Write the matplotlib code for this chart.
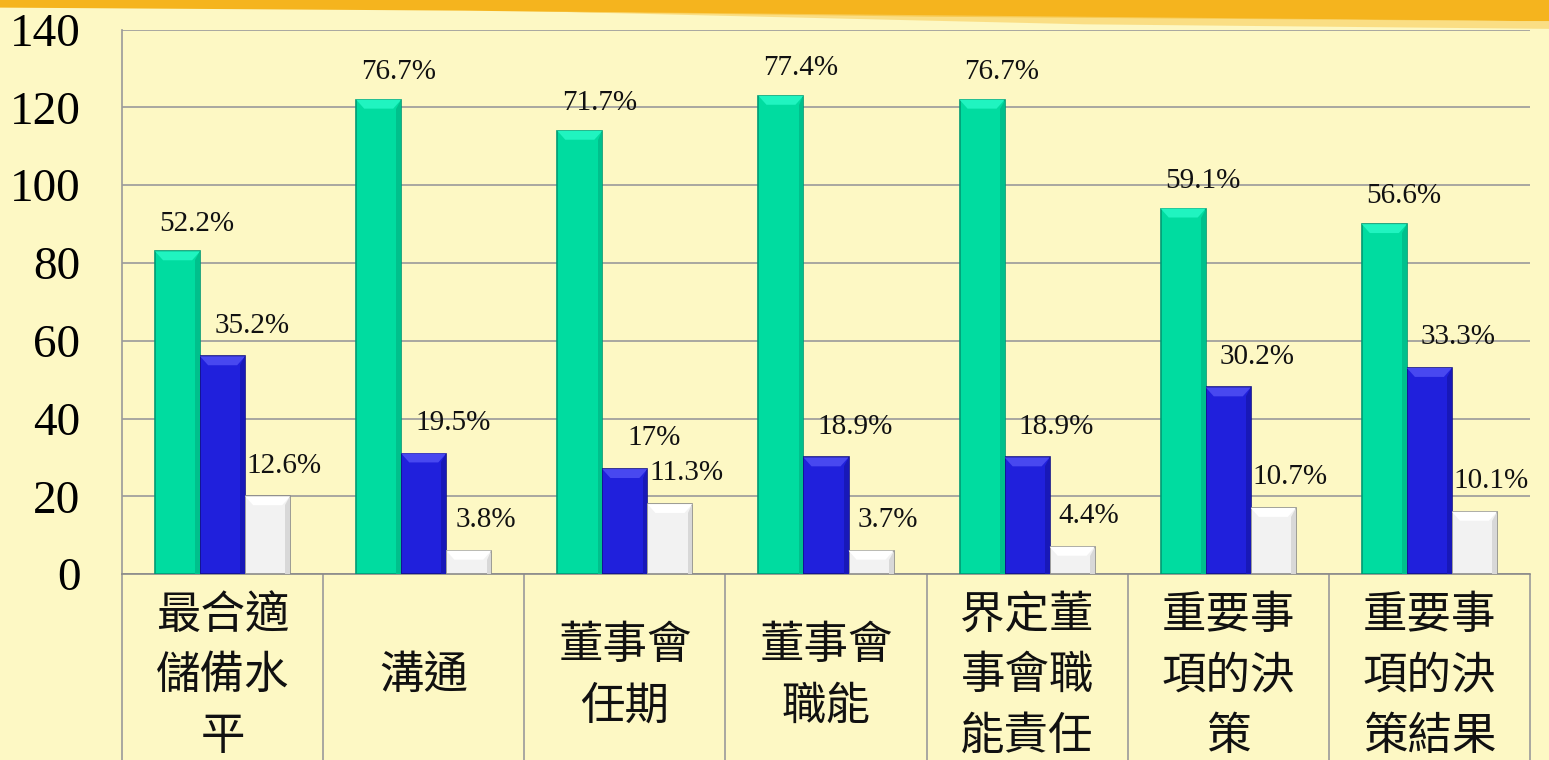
import numpy as np
import matplotlib
matplotlib.use("Agg")
import matplotlib.pyplot as plt
from matplotlib.patches import Polygon

# 資料
categories = ["最合適\n儲備水\n平", "溝通", "董事會\n任期", "董事會\n職能",
              "界定董\n事會職\n能責任", "重要事\n項的決\n策", "重要事\n項的決\n策結果"]
green_vals = [83, 122, 114, 123, 122, 94, 90]
blue_vals = [56, 31, 27, 30, 30, 48, 53]
white_vals = [20, 6, 18, 6, 7, 17, 16]
green_pct = ["52.2%", "76.7%", "71.7%", "77.4%", "76.7%", "59.1%", "56.6%"]
blue_pct = ["35.2%", "19.5%", "17%", "18.9%", "18.9%", "30.2%", "33.3%"]
white_pct = ["12.6%", "3.8%", "11.3%", "3.7%", "4.4%", "10.7%", "10.1%"]

bg = "#fdf8c4"
fig = plt.figure(figsize=(15.49, 7.60), dpi=100, facecolor=bg)
ax = fig.add_axes([0.0788, 0.2447, 0.9089, 0.7162])
ax.set_facecolor("none")

# 上方金色條
fig.patches.append(Polygon([[0, 1], [1, 1], [1, 0.972], [0.6, 0.978], [0.3, 0.986], [0, 0.99]],
                           closed=True, transform=fig.transFigure, facecolor="#f5b41e",
                           edgecolor="none", zorder=0))
fig.patches.append(Polygon([[0.35, 0.985], [1, 0.972], [1, 0.962], [0.7, 0.968], [0.45, 0.98]],
                           closed=True, transform=fig.transFigure, facecolor="#f9d46a",
                           edgecolor="none", zorder=0, alpha=0.7))

x = np.arange(len(categories))
w = 0.224
series = [
    (green_vals, green_pct, -w, "#00dca0", "#009a74", "#20f4c0", "#00c08c", (14, 20)),
    (blue_vals, blue_pct, 0, "#2020dc", "#12128a", "#4848f0", "#1818b8", (21, 22)),
    (white_vals, white_pct, w, "#f2f2f2", "#8c8c8c", "#ffffff", "#d8d8d8", (12, 22)),
]
bev_h = 2.3   # 斜面高度 (資料單位)
bev_w = 0.04
for vals, pcts, off, fc, ec, light, dark, dxy in series:
    bars = ax.bar(x + off, vals, width=w, color=fc, edgecolor=ec, linewidth=1.2, zorder=3)
    for b, p in zip(bars, pcts):
        x0, x1, h = b.get_x(), b.get_x() + b.get_width(), b.get_height()
        d = min(bev_h, h * 0.5)
        ax.add_patch(Polygon([[x0, h], [x1, h], [x1 - bev_w, h - d], [x0 + bev_w, h - d]],
                             closed=True, facecolor=light, edgecolor="none", zorder=3.5))
        ax.add_patch(Polygon([[x1, h], [x1, 0], [x1 - bev_w * 0.6, 0], [x1 - bev_w * 0.6, h - d]],
                             closed=True, facecolor=dark, edgecolor="none", zorder=3.5))
        ax.annotate(p, ((x0 + x1) / 2, h),
                    xytext=dxy, textcoords="offset points", ha="center", va="center",
                    fontsize=21, family="Liberation Serif", color="#111111", zorder=4)

ax.set_xlim(-0.5, len(categories) - 0.5)
ax.set_ylim(0, 140)
ax.set_yticks(np.arange(0, 141, 20))
ax.tick_params(axis="y", length=0, pad=30, labelsize=34)
for t in ax.get_yticklabels():
    t.set_family("Liberation Serif")
ax.set_xticks([])
ax.yaxis.grid(True, color="#9a9a9a", linewidth=1.2, zorder=1)
ax.set_axisbelow(True)
for s in ["top", "right"]:
    ax.spines[s].set_visible(False)
ax.spines["left"].set_color("#9a9a9a")
ax.spines["bottom"].set_color("#8a8a8a")
ax.spines["left"].set_linewidth(1.2)
ax.spines["bottom"].set_linewidth(1.2)

# 類別表格
ax.vlines(np.arange(len(categories) + 1) - 0.5, -60, 0, colors="#9a9a9a",
          linewidth=1.2, clip_on=False)
for xi, c in zip(x, categories):
    ax.text(xi, -26, c, ha="center", va="center", fontsize=32,
            family=["Noto Sans CJK TC", "DejaVu Sans"], linespacing=1.4,
            color="#111111", clip_on=False)

fig.savefig("out.png", dpi=100, facecolor=bg)
